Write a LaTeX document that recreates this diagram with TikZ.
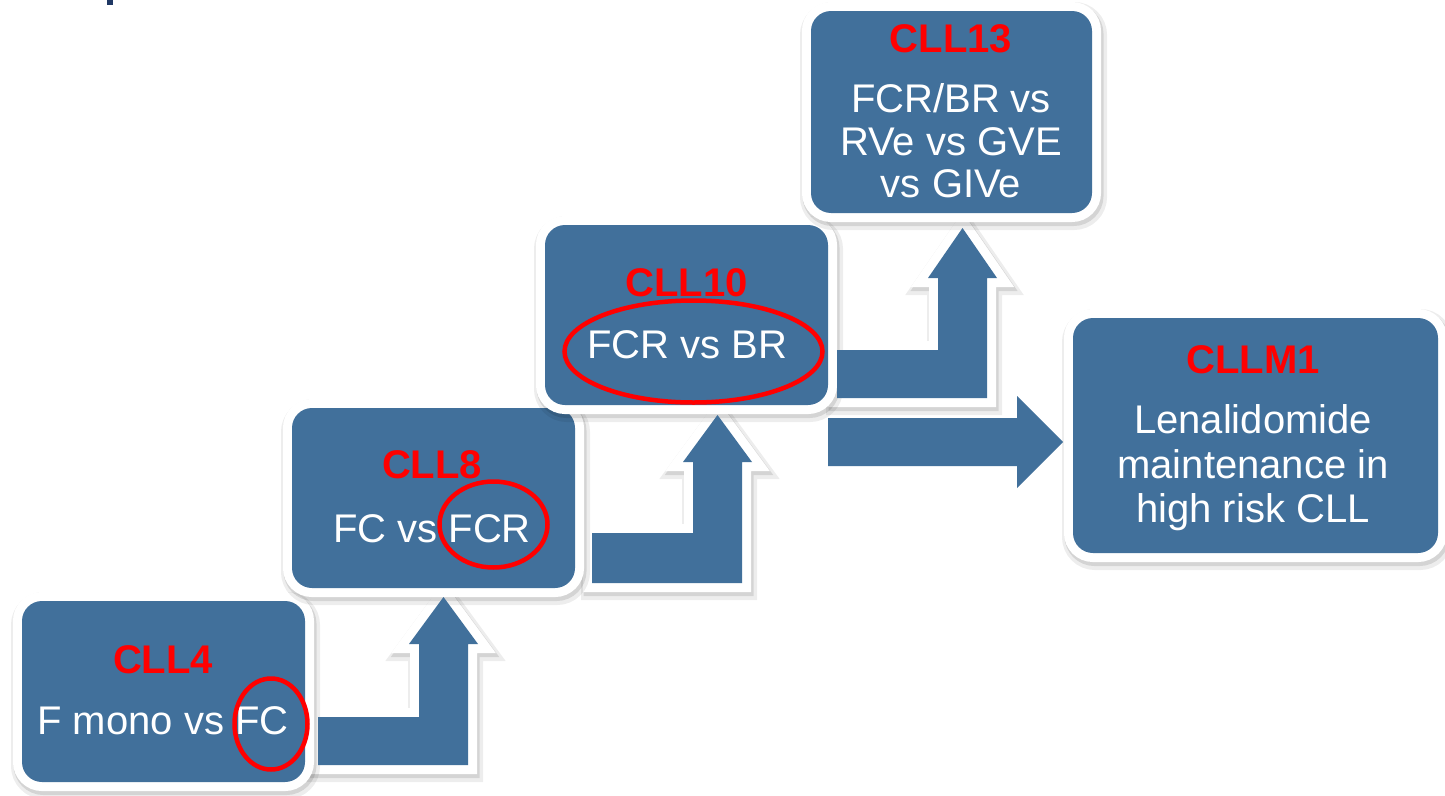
\documentclass[tikz,border=0pt]{standalone}
\usepackage{fontspec}
\setmainfont{Liberation Sans}
\definecolor{stepblue}{RGB}{65,112,155}
\definecolor{hdred}{RGB}{255,0,0}
\definecolor{navy}{RGB}{31,56,100}

% L-shaped block arrow bending upwards:
% #1 bar left x, #2 bar top y, #3 bar bottom y, #4 shaft left x,
% #5 shaft right x, #6 head base y, #7 tip y
\newcommand{\upelbow}[7]{(#1,#2) -- (#4,#2) -- (#4,#6) -- ({#4-10},#6) -- ({(#4+#5)/2},#7) -- ({#5+10},#6) -- (#5,#6) -- (#5,#3) -- (#1,#3) -- cycle}

\tikzset{
  softshadow/.style={
    preaction={draw=black, draw opacity=0.07, line width=26pt, transform canvas={xshift=2pt,yshift=-4pt}},
    preaction={draw=black, draw opacity=0.10, line width=20pt, transform canvas={xshift=1.5pt,yshift=-3pt}}},
  elbowrim/.style={softshadow, draw=white, line width=18pt},
  box/.style={rectangle, rounded corners=20pt, inner sep=0pt, softshadow,
    preaction={draw=white, line width=18pt}, fill=stepblue},
  trialname/.style={anchor=base, inner sep=0pt, text=hdred, font=\bfseries\fontsize{40}{44}\selectfont},
  trialtext/.style={anchor=base, inner sep=0pt, text=white, font=\fontsize{40}{44}\selectfont},
  ring/.style={draw=hdred, line width=4.5pt}
}

\begin{document}
\begin{tikzpicture}[x=1pt,y=-1pt,line join=miter]
\fill[white] (0,0) rectangle (1445,795);
\useasboundingbox (0,0) rectangle (1445,795);

% descender of a heading cut off at the top edge
\fill[navy] (107,0) rectangle (113,5);

% rims and shadows of the elbow arrows
\path[elbowrim] \upelbow{318}{717}{765}{419}{468}{644}{597};
\path[elbowrim] \upelbow{592}{533}{583}{693}{742}{462}{415};
\path[elbowrim] \upelbow{837}{350}{398}{938}{987}{278}{228};

% trial boxes
\node[box, minimum width=283pt, minimum height=181pt] (cll4)  at (163.5,691.5) {};
\node[box, minimum width=283pt, minimum height=180pt] (cll8)  at (433.5,498) {};
\node[box, minimum width=283pt, minimum height=180pt] (cll10) at (686.5,315) {};
\node[box, minimum width=281pt, minimum height=202pt] (cll13) at (951.5,112) {};
\node[box, minimum width=365pt, minimum height=235pt] (cllm1) at (1255.5,435.5) {};

% elbow arrow bodies
\fill[stepblue] \upelbow{318}{717}{765}{419}{468}{644}{597};
\fill[stepblue] \upelbow{592}{533}{583}{693}{742}{462}{415};
\fill[stepblue] \upelbow{837}{350}{398}{938}{987}{278}{228};

% straight arrow towards CLLM1
\fill[stepblue] (828,418) -- (1017,418) -- (1017,396) -- (1063,442) -- (1017,488) -- (1017,466) -- (828,466) -- cycle;

% labels
\node[trialname] (t4)  at (163,673) {CLL4};
\node[trialtext] (b4)  at (163,734) {F mono vs FC};

\node[trialname] (t8)  at (432,478) {CLL8};
\node[trialtext] (b8)  at (432,542) {FC vs FCR};

\node[trialname] (t10) at (686.5,296) {CLL10};
\node[trialtext] (b10) at (687,358) {FCR vs BR};

\node[trialname] (t13)  at (951,52)  {CLL13};
\node[trialtext] (b13a) at (951,112) {FCR/BR vs};
\node[trialtext] (b13b) at (951,155) {RVe vs GVE};
\node[trialtext] (b13c) at (951,197) {vs GIVe};

\node[trialname] (tm1)  at (1253,373) {CLLM1};
\node[trialtext] (bm1a) at (1253,433) {Lenalidomide};
\node[trialtext] (bm1b) at (1253,478) {maintenance in};
\node[trialtext] (bm1c) at (1253,522) {high risk CLL};

% red highlight rings
\draw[ring] (271,724) ellipse [x radius=36.5, y radius=45.5];
\draw[ring] (493.5,524.5) ellipse [x radius=54, y radius=43];
\draw[ring] (693.5,351.5) ellipse [x radius=129, y radius=51];
\end{tikzpicture}
\end{document}
